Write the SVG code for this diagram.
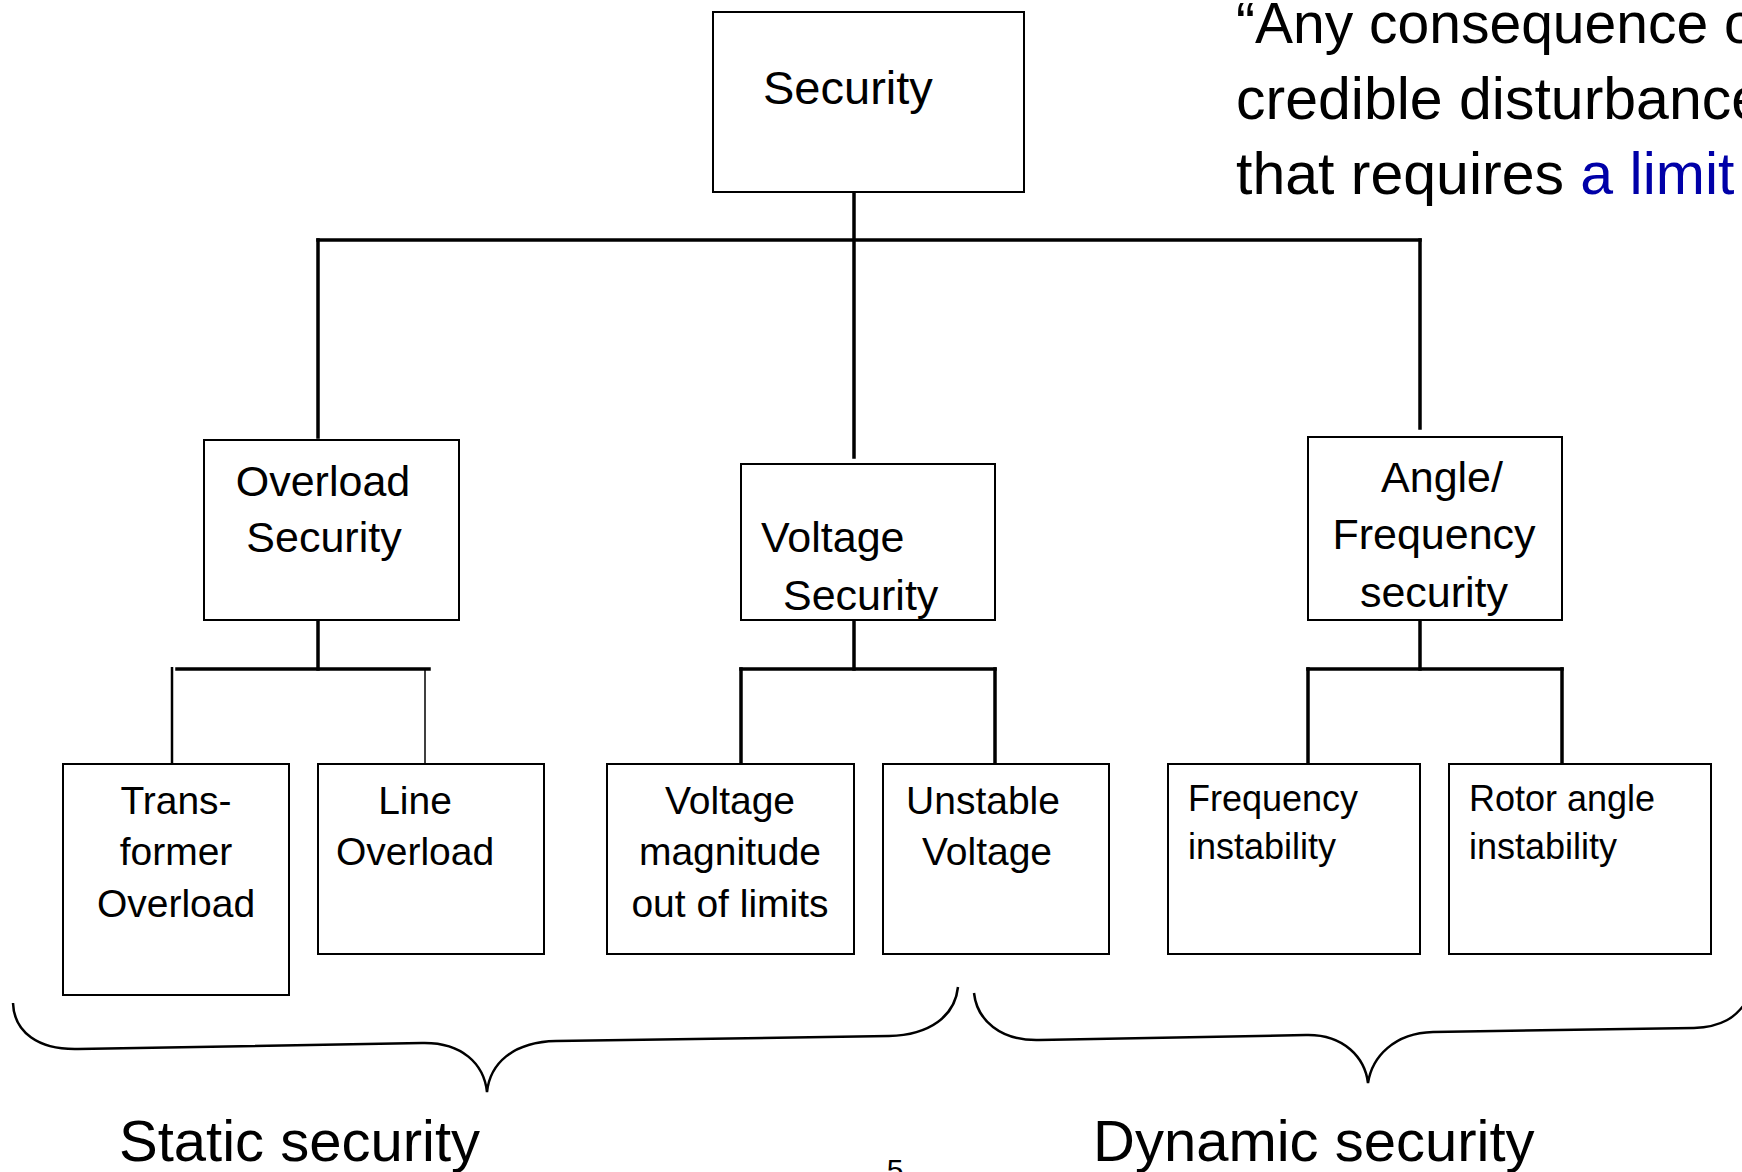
<svg xmlns="http://www.w3.org/2000/svg" width="1742" height="1172" viewBox="0 0 1742 1172">
<style>
  .box { fill: #ffffff; stroke: #000000; stroke-width: 2; }
  .conn { stroke: #000000; stroke-width: 3.5; fill: none; stroke-linecap: square; }
  .thin { stroke: #000000; stroke-width: 2; fill: none; }
  .brace { stroke: #000000; stroke-width: 2.5; fill: none; }
  text { font-family: "Liberation Sans", Arial, sans-serif; fill: #000000; }
  .t47 { font-size: 47px; }
  .t43 { font-size: 43px; }
  .t39 { font-size: 39px; }
  .t36 { font-size: 36px; }
  .big { font-size: 58px; }
  .quote { font-size: 59px; }
  .mid { text-anchor: middle; }
</style>
<rect width="1742" height="1172" fill="#ffffff"/>

<g id="connectors">
  <line class="conn" x1="854" y1="192" x2="854" y2="457"/>
  <line class="conn" x1="318" y1="240" x2="1420" y2="240"/>
  <line class="conn" x1="318" y1="240" x2="318" y2="437"/>
  <line class="conn" x1="1420" y1="240" x2="1420" y2="428"/>

  <line class="conn" x1="318" y1="620" x2="318" y2="669"/>
  <line class="conn" x1="177" y1="669" x2="429" y2="669"/>
  <line class="thin" x1="172" y1="667" x2="172" y2="770" style="stroke-width:2.5"/>
  <line class="thin" x1="425" y1="669" x2="425" y2="770" style="stroke-width:1.5"/>

  <line class="conn" x1="854" y1="620" x2="854" y2="669"/>
  <line class="conn" x1="741" y1="669" x2="995" y2="669"/>
  <line class="conn" x1="741" y1="669" x2="741" y2="764"/>
  <line class="conn" x1="995" y1="669" x2="995" y2="764"/>

  <line class="conn" x1="1420" y1="620" x2="1420" y2="669"/>
  <line class="conn" x1="1308" y1="669" x2="1562" y2="669"/>
  <line class="conn" x1="1308" y1="669" x2="1308" y2="764"/>
  <line class="conn" x1="1562" y1="669" x2="1562" y2="764"/>
</g>

<g id="node-security">
  <rect class="box" x="713" y="12" width="311" height="180"/>
  <text class="t47" x="763" y="104">Security</text>
</g>

<g id="node-overload-security">
  <rect class="box" x="204" y="440" width="255" height="180"/>
  <text class="t43 mid" x="323" y="496">Overload</text>
  <text class="t43 mid" x="324" y="552">Security</text>
</g>

<g id="node-voltage-security">
  <rect class="box" x="741" y="464" width="254" height="156"/>
  <text class="t43" x="761" y="552">Voltage</text>
  <text class="t43" x="783" y="610">Security</text>
</g>

<g id="node-angle-frequency-security">
  <rect class="box" x="1308" y="437" width="254" height="183"/>
  <text class="t43 mid" x="1442" y="492">Angle/</text>
  <text class="t43 mid" x="1434" y="549">Frequency</text>
  <text class="t43 mid" x="1434" y="607">security</text>
</g>

<g id="node-transformer-overload">
  <rect class="box" x="63" y="764" width="226" height="231"/>
  <text class="t39 mid" x="176" y="814">Trans-</text>
  <text class="t39 mid" x="176" y="865">former</text>
  <text class="t39 mid" x="176" y="917">Overload</text>
</g>

<g id="node-line-overload">
  <rect class="box" x="318" y="764" width="226" height="190"/>
  <text class="t39 mid" x="415" y="814">Line</text>
  <text class="t39 mid" x="415" y="865">Overload</text>
</g>

<g id="node-voltage-magnitude">
  <rect class="box" x="607" y="764" width="247" height="190"/>
  <text class="t39 mid" x="730" y="814">Voltage</text>
  <text class="t39 mid" x="730" y="865">magnitude</text>
  <text class="t39 mid" x="730" y="917">out of limits</text>
</g>

<g id="node-unstable-voltage">
  <rect class="box" x="883" y="764" width="226" height="190"/>
  <text class="t39 mid" x="983" y="814">Unstable</text>
  <text class="t39 mid" x="987" y="865">Voltage</text>
</g>

<g id="node-frequency-instability">
  <rect class="box" x="1168" y="764" width="252" height="190"/>
  <text class="t36" x="1188" y="811">Frequency</text>
  <text class="t36" x="1188" y="859">instability</text>
</g>

<g id="node-rotor-angle-instability">
  <rect class="box" x="1449" y="764" width="262" height="190"/>
  <text class="t36" x="1469" y="811">Rotor angle</text>
  <text class="t36" x="1469" y="859">instability</text>
</g>

<g id="braces">
  <path class="brace" d="M13,1003 C14,1032 38,1050 78,1049 L422,1043 C462,1042 484,1064 487,1092 C490,1064 512,1042 556,1041 L889,1036 C930,1035 955,1016 958,987"/>
  <path class="brace" d="M974,993 C977,1020 1000,1041 1039,1040 L1306,1035 C1344,1034 1365,1058 1368,1083 C1372,1057 1394,1033 1433,1032 L1694,1028 C1722,1027 1736,1017 1746,1002"/>
</g>

<g id="labels">
  <text class="big" x="119" y="1161">Static security</text>
  <text class="big" x="1093" y="1161">Dynamic security</text>
  <text class="mid" x="895" y="1180" style="font-size:30px">5</text>
  <text class="quote" x="1236" y="43" style="font-size:57px">“Any consequence o</text>
  <text class="quote" x="1236" y="119">credible disturbance</text>
  <text class="quote" x="1236" y="194">that requires <tspan fill="#0000a8">a limit</tspan></text>
</g>
</svg>
